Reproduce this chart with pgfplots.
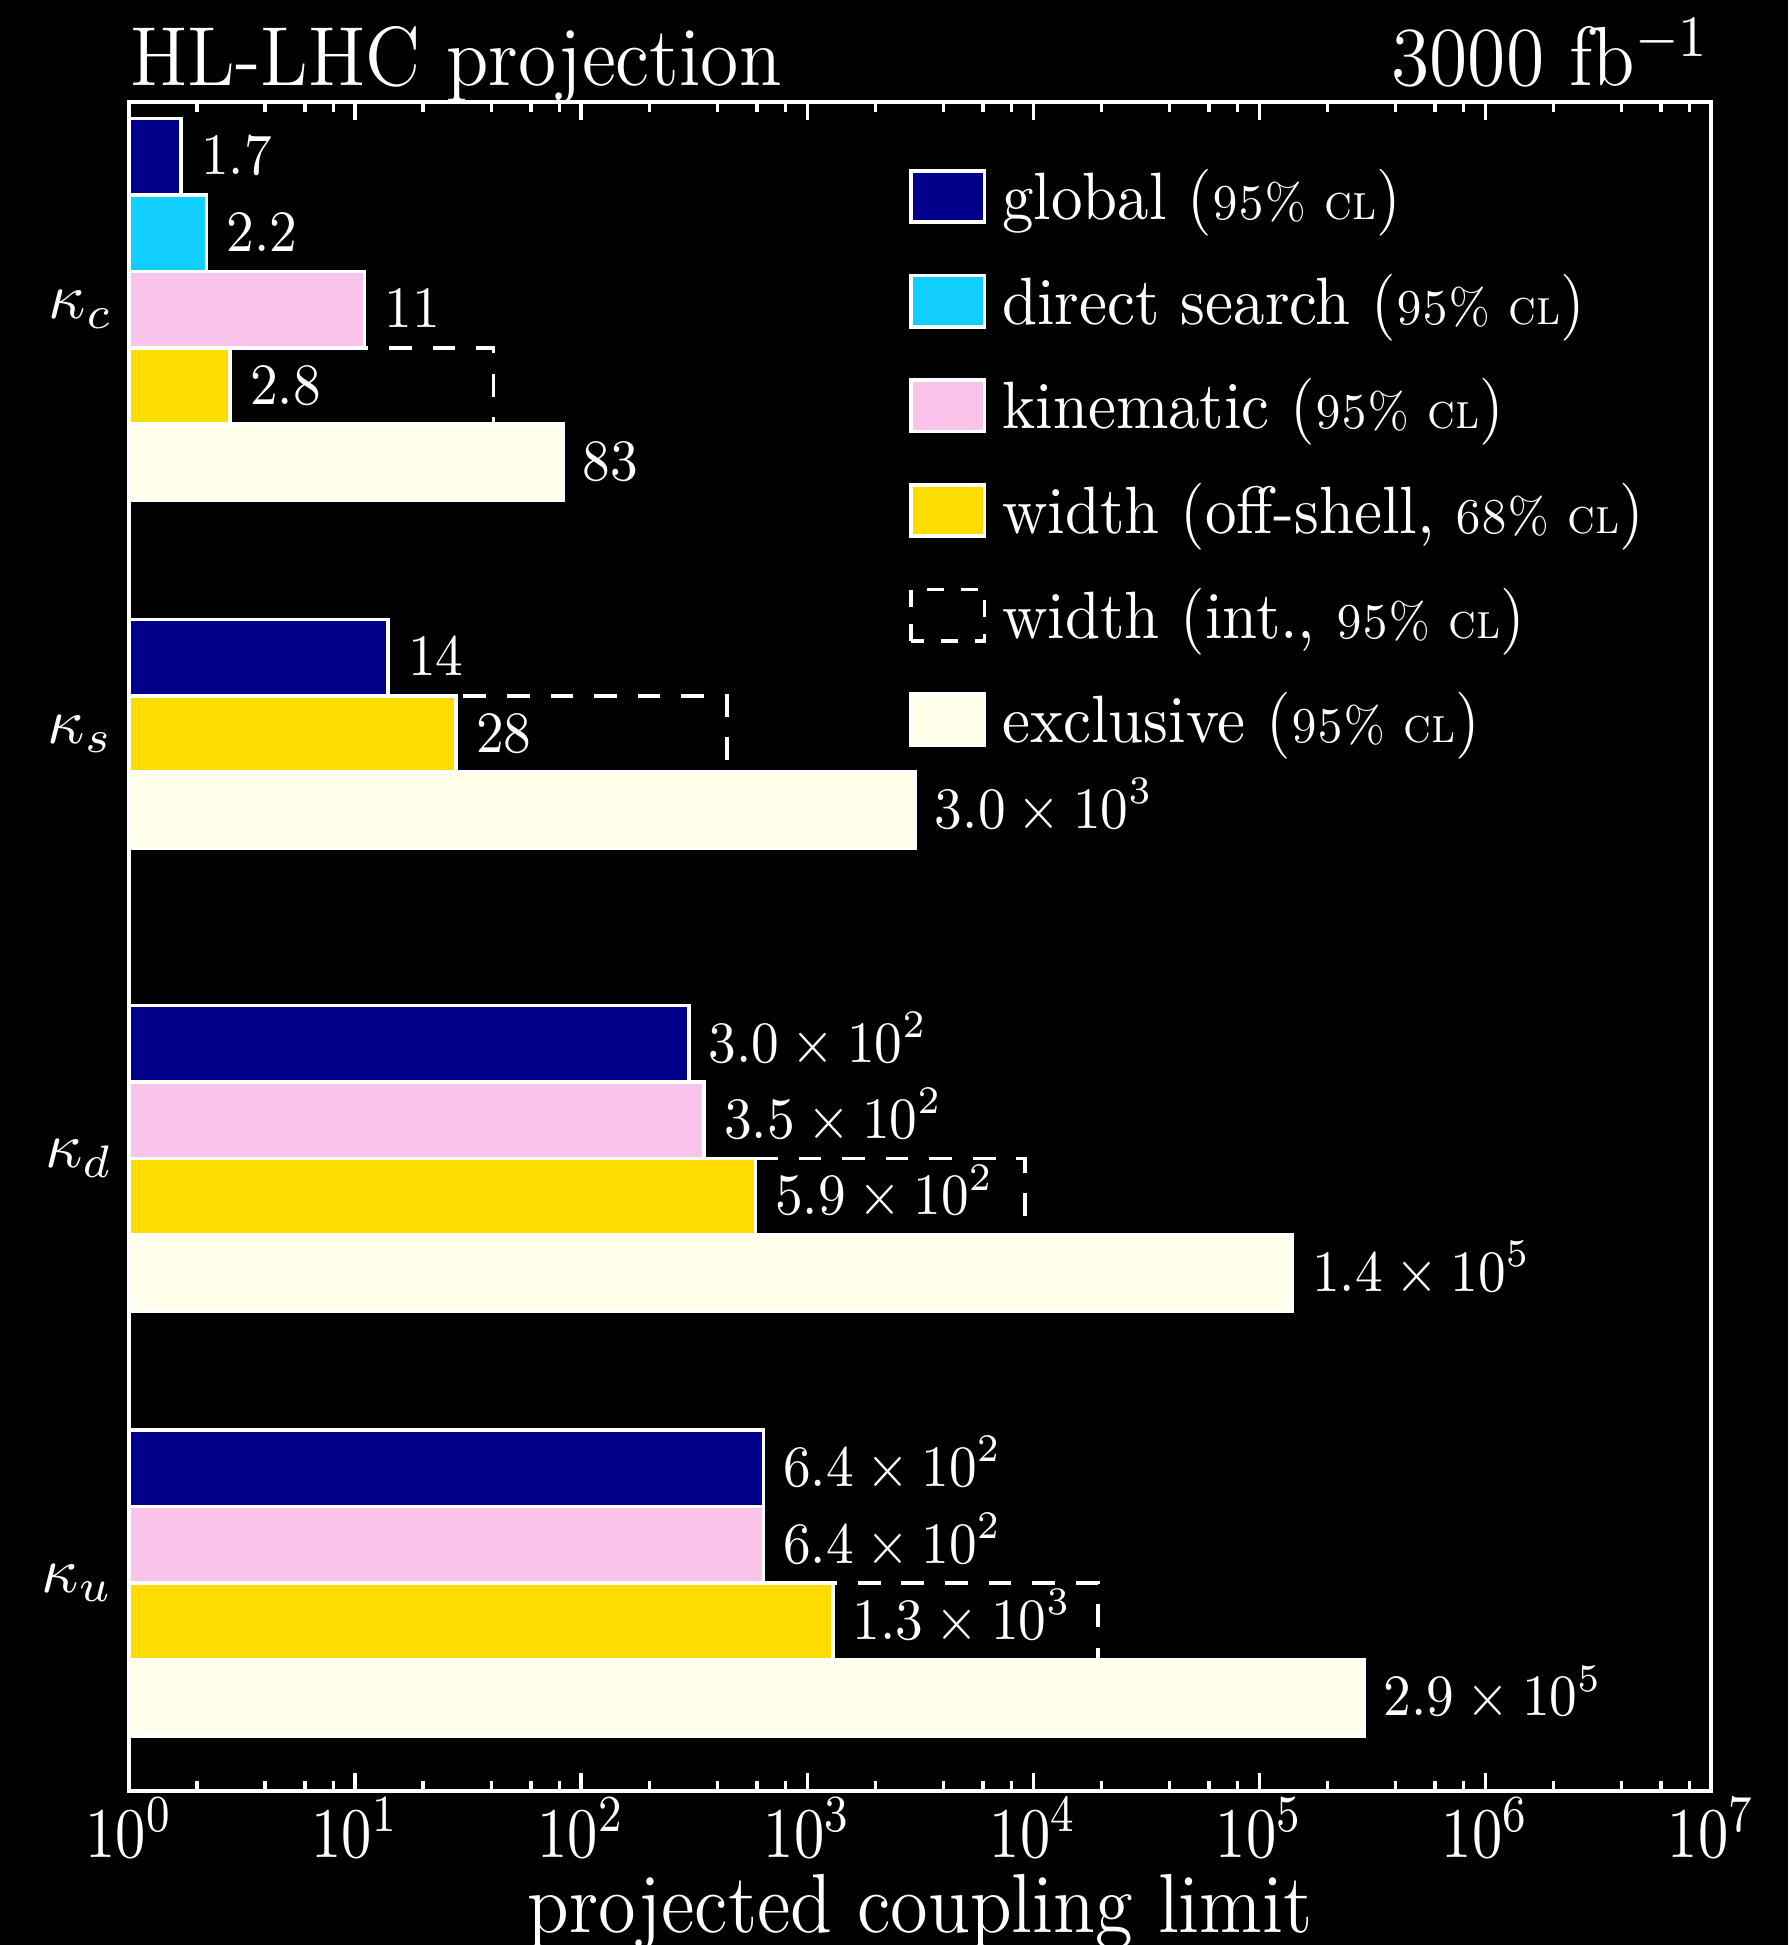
\documentclass[border=0pt]{standalone}
\usepackage{graphicx}
\usepackage{pgfplots}
\pgfplotsset{compat=1.18}

\definecolor{cglobal}{RGB}{0,0,138}
\definecolor{cdirect}{RGB}{18,206,255}
\definecolor{ckin}{RGB}{250,196,234}
\definecolor{cwidth}{RGB}{255,220,0}
\definecolor{cexcl}{RGB}{255,255,234}

% horizontally condensed text
\newcommand{\hsq}[2]{\scalebox{#1}[1]{#2}}
% small confidence-level tag in the legend
\newcommand{\cl}[1]{{\fontsize{7.7}{9}\selectfont\scshape #1}}

\begin{document}
\begin{tikzpicture}
\fill[black] (-19.85pt,-23.7pt) rectangle (255.25pt,275.5pt);
\begin{axis}[
  name=ax,
  scale only axis, width=243.4pt, height=259.8pt,
  xmode=log, log basis x=10, xmin=1, xmax=1e7,
  ymin=0, ymax=22.1,
  xbar, bar width=1, bar shift=0pt,
  axis line style={white, line width=0.6pt},
  tick style={white, line width=0.5pt},
  tick align=inside, xtick pos=both,
  major tick length=2.8pt, minor tick length=1.5pt,
  xtick={1,10,100,1000,10000,100000,1000000,10000000},
  xticklabels={\hsq{0.85}{$10^{0}$},\hsq{0.85}{$10^{1}$},\hsq{0.85}{$10^{2}$},\hsq{0.85}{$10^{3}$},
               \hsq{0.85}{$10^{4}$},\hsq{0.85}{$10^{5}$},\hsq{0.85}{$10^{6}$},\hsq{0.85}{$10^{7}$}},
  minor xtick={2,4,6,8,20,40,60,80,200,400,600,800,2000,4000,6000,8000,
               20000,40000,60000,80000,200000,400000,600000,800000,
               2000000,4000000,6000000,8000000},
  xticklabel style={white, anchor=base, inner sep=0pt, yshift=-10.2pt, font=\fontsize{11}{12}\selectfont},
  ytick={2.72,8.275,13.83,19.385},
  yticklabels={$\kappa_u$,$\kappa_d$,$\kappa_s$,$\kappa_c$},
  ytick style={draw=none},
  yticklabel style={white, anchor=east, inner sep=0pt, xshift=-2.3pt, font=\fontsize{10.2}{12}\selectfont},
  title={\hsq{0.93}{HL-LHC projection}},
  every axis title/.style={at={(axis description cs:0,1)}, anchor=base west, yshift=2.6pt,
    white, inner sep=0pt, font=\fontsize{12.9}{15}\selectfont},
  xlabel={\hsq{0.915}{projected coupling limit}},
  every axis x label/.style={at={(axis description cs:0.5,0)}, anchor=base, yshift=-21.8pt,
    white, inner sep=0pt, font=\fontsize{12.9}{15}\selectfont},
  legend image code/.code={\draw[#1] (0pt,-2.9pt) rectangle (11.3pt,5.0pt);},
  legend cell align=left,
  legend style={at={(axis description cs:0.493,0.9612)}, anchor=north west,
    draw=none, fill=none, inner sep=0pt, outer sep=0pt,
    row sep=5.1pt, column sep=2.5pt, text=white,
    font=\fontsize{10.3}{12}\selectfont,
    nodes={inner sep=0pt, text height=8pt, text depth=3pt}},
  barlab/.style={nodes near coords={\hsq{0.92}{\pgfplotspointmeta}}, point meta=explicit symbolic,
    every node near coord/.style={anchor=base west, inner sep=0pt, xshift=2.8pt, yshift=-2.8pt,
      white, font=\fontsize{8.6}{10}\selectfont}},
  bar/.style={draw=white, line width=0.55pt},
]
% legend entries, in display order
\addlegendimage{fill=cglobal, draw=white, line width=0.55pt}
\addlegendentry{\hsq{0.94}{global (\cl{95\% cl})}}
\addlegendimage{fill=cdirect, draw=white, line width=0.55pt}
\addlegendentry{\hsq{0.94}{direct search (\cl{95\% cl})}}
\addlegendimage{fill=ckin, draw=white, line width=0.55pt}
\addlegendentry{\hsq{0.94}{kinematic (\cl{95\% cl})}}
\addlegendimage{fill=cwidth, draw=white, line width=0.55pt}
\addlegendentry{\hsq{0.94}{width (off-shell, \cl{68\% cl})}}
\addlegendimage{draw=white, line width=0.55pt, dash pattern=on 2.6pt off 2.6pt}
\addlegendentry{\hsq{0.94}{width (int., \cl{95\% cl})}}
\addlegendimage{fill=cexcl, draw=white, line width=0.55pt}
\addlegendentry{\hsq{0.94}{exclusive (\cl{95\% cl})}}

% width from interference: dashed outline behind the filled bars
\addplot[forget plot, bar, fill=none, dash pattern=on 3.5pt off 3.2pt]
  coordinates {(41,18.385) (441,13.83) (9200,7.775) (19400,2.22)};

% global fit
\addplot[forget plot, bar, barlab, fill=cglobal]
  coordinates {(1.7,21.385) [$1.7$] (14,14.83) [$14$]
               (300,9.775) [$3.0\times 10^{2}$] (640,4.22) [$6.4\times 10^{2}$]};
% direct search
\addplot[forget plot, bar, barlab, fill=cdirect]
  coordinates {(2.2,20.385) [$2.2$]};
% kinematic
\addplot[forget plot, bar, barlab, fill=ckin]
  coordinates {(11,19.385) [$11$] (350,8.775) [$3.5\times 10^{2}$] (640,3.22) [$6.4\times 10^{2}$]};
% width, off-shell
\addplot[forget plot, bar, barlab, fill=cwidth]
  coordinates {(2.8,18.385) [$2.8$] (28,13.83) [$28$]
               (590,7.775) [$5.9\times 10^{2}$] (1300,2.22) [$1.3\times 10^{3}$]};
% exclusive
\addplot[forget plot, bar, barlab, fill=cexcl]
  coordinates {(83,17.385) [$83$] (3000,12.83) [$3.0\times 10^{3}$]
               (140000,6.775) [$1.4\times 10^{5}$] (290000,1.22) [$2.9\times 10^{5}$]};
\end{axis}
\node[anchor=base east, inner sep=0pt, white, font=\fontsize{12.9}{15}\selectfont]
  at ([xshift=0pt, yshift=2.6pt]ax.north east) {\hsq{0.93}{3000 fb$^{-1}$}};
\pgfresetboundingbox
\path[use as bounding box] (-19.85pt,-23.7pt) rectangle (255.25pt,275.5pt);
\end{tikzpicture}
\end{document}
